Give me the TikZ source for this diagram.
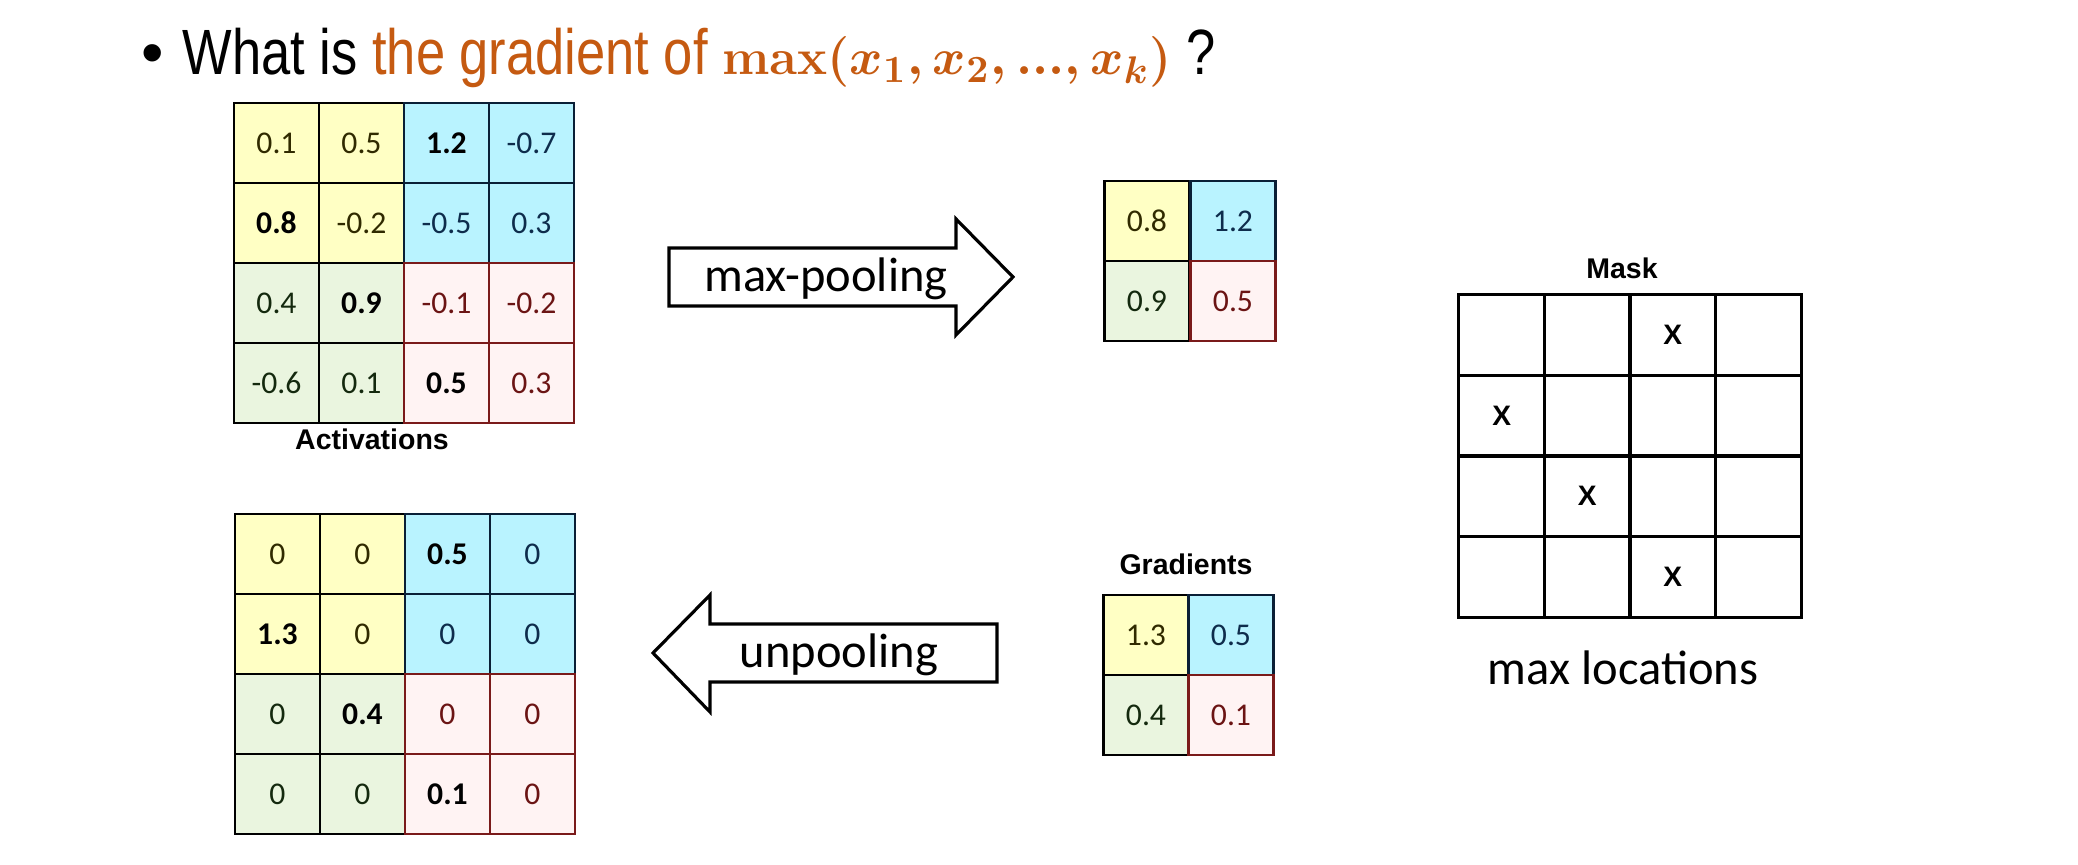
\documentclass[tikz,border=0pt]{standalone}
\usepackage{fontspec}
\setmainfont{Carlito}
\newfontfamily\arialfont{Liberation Sans}
\newfontfamily\titlefont[FakeStretch=0.82]{Liberation Sans}

\definecolor{orng}{HTML}{C55A11}
\definecolor{cyel}{HTML}{FFFFC4}
\definecolor{cblu}{HTML}{B9F3FF}
\definecolor{cgrn}{HTML}{EAF5DF}
\definecolor{cpnk}{HTML}{FFF3F3}
\definecolor{tyel}{HTML}{302A00}
\definecolor{tblu}{HTML}{0E2C4C}
\definecolor{tgrn}{HTML}{14290E}
\definecolor{tpnk}{HTML}{6B1414}
\definecolor{lblu}{HTML}{0A1F36}
\definecolor{lpnk}{HTML}{7A1A1A}

\newcommand{\cellsize}{\fontsize{9}{11}\selectfont}

\tikzset{
  cell/.style={draw=black, line width=0.7pt, minimum width=0.85cm, minimum height=0.8cm, inner sep=0pt, font=\cellsize},
  yel/.style={cell, fill=cyel, text=tyel},
  blu/.style={cell, fill=cblu, text=tblu, draw=lblu},
  grn/.style={cell, fill=cgrn, text=tgrn},
  pnk/.style={cell, fill=cpnk, text=tpnk, draw=lpnk},
  yelhi/.style={yel, text=black, font=\cellsize\bfseries},
  bluhi/.style={blu, text=black, font=\cellsize\bfseries},
  grnhi/.style={grn, text=black, font=\cellsize\bfseries},
  pnkhi/.style={pnk, text=black, font=\cellsize\bfseries},
  maskcell/.style={draw=black, line width=0.85pt, minimum width=0.855cm, minimum height=0.805cm, inner sep=0pt},
  maskx/.style={font=\arialfont\bfseries\fontsize{8}{10}\selectfont},
  boldlabel/.style={anchor=base, inner sep=0pt, font=\arialfont\bfseries\fontsize{8.1}{10}\selectfont},
  arrowtext/.style={anchor=base, inner sep=0pt, font=\fontsize{13.8}{16}\selectfont},
  bigarrow/.style={draw=black, line width=0.9pt, fill=white, line join=miter}
}

\begin{document}
\begin{tikzpicture}[x=0.01cm, y=-0.01cm]
\useasboundingbox (0,0) rectangle (2078,865);

% Question line
\node[anchor=base, inner sep=0pt, font=\arialfont\fontsize{18.2}{22}\selectfont] (bullet) at (153,75) {•};
\node[anchor=base west, inner sep=0pt, font=\titlefont\fontsize{18.2}{22}\selectfont] (title) at (182,75)
  {What is \textcolor{orng}{the gradient of {\fontsize{15.5}{18}\selectfont\boldmath$\mathbf{max}(x_1{,}\,x_2{,}\,...{,}\,x_k)$}} ?};

% Activations (4x4 input)
\foreach \v/\s [count=\i from 0] in {0.1/yel, 0.5/yel, 1.2/bluhi, -0.7/blu,
    0.8/yelhi, -0.2/yel, -0.5/blu, 0.3/blu,
    0.4/grn, 0.9/grnhi, -0.1/pnk, -0.2/pnk,
    -0.6/grn, 0.1/grn, 0.5/pnkhi, 0.3/pnk} {
    \pgfmathtruncatemacro\r{\i/4}
    \pgfmathtruncatemacro\c{mod(\i,4)}
    \node[\s] (act-\r-\c) at (276.5+85*\c, 143+80*\r) {\v};
}
\node[boldlabel] (actlabel) at (372,450) {Activations};

% Pooled output (2x2)
\foreach \v/\s [count=\i from 0] in {0.8/yel, 1.2/blu, 0.9/grn, 0.5/pnk} {
    \pgfmathtruncatemacro\r{\i/2}
    \pgfmathtruncatemacro\c{mod(\i,2)}
    \node[\s] (pool-\r-\c) at (1147+86*\c, 221+80*\r) {\v};
}

% Gradients (2x2)
\foreach \v/\s [count=\i from 0] in {1.3/yel, 0.5/blu, 0.4/grn, 0.1/pnk} {
    \pgfmathtruncatemacro\r{\i/2}
    \pgfmathtruncatemacro\c{mod(\i,2)}
    \node[\s] (grad-\r-\c) at (1146+85*\c, 635+80*\r) {\v};
}
\node[boldlabel] (gradlabel) at (1186,575) {Gradients};

% Unpooled gradients (4x4)
\foreach \v/\s [count=\i from 0] in {0/yel, 0/yel, 0.5/bluhi, 0/blu,
    1.3/yelhi, 0/yel, 0/blu, 0/blu,
    0/grn, 0.4/grnhi, 0/pnk, 0/pnk,
    0/grn, 0/grn, 0.1/pnkhi, 0/pnk} {
    \pgfmathtruncatemacro\r{\i/4}
    \pgfmathtruncatemacro\c{mod(\i,4)}
    \node[\s] (unp-\r-\c) at (277.5+85*\c, 554+80*\r) {\v};
}

% Mask of max locations
\foreach \r in {0,...,3} {
  \foreach \c in {0,...,3} {
    \node[maskcell] (mask-\r-\c) at (1501.75+85.5*\c, 335.25+80.5*\r) {};
  }
}
\foreach \r/\c in {0/2, 1/0, 2/1, 3/2} {
    \node[maskx] (x-\r-\c) at (mask-\r-\c) {X};
}
\node[boldlabel] (masklabel) at (1622,279) {Mask};
\node[arrowtext] (maxloc) at (1623,685) {max locations};

% Block arrows
\draw[bigarrow] (669,248) -- (956,248) -- (956,219) -- (1013,277) -- (956,335) -- (956,306) -- (669,306) -- cycle;
\node[arrowtext] (pooltext) at (826,292) {max-pooling};
\draw[bigarrow] (997,624) -- (710,624) -- (710,595) -- (653,653) -- (710,712) -- (710,682) -- (997,682) -- cycle;
\node[arrowtext] (unpooltext) at (839,668) {unpooling};

\end{tikzpicture}
\end{document}
